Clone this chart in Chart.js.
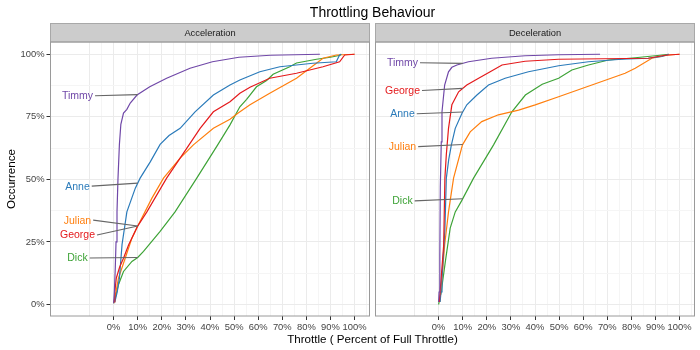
<!DOCTYPE html>
<html lang="en">
<head>
<meta charset="UTF-8" />
<title>Throttling Behaviour</title>
<script src="https://cdn.jsdelivr.net/npm/chart.js"></script>
<style>
  body { margin: 0; background: #fff; font-family: "Liberation Sans", Arial, sans-serif; }
  #wrap { position: relative; width: 700px; height: 350px; overflow: hidden; }
  #title { position: absolute; left: 0; top: 4px; width: 745px; text-align: center; font-size: 14px; line-height: 16px; color: #000; }
  #xtitle { position: absolute; left: 0; top: 332px; width: 745px; text-align: center; font-size: 11.6px; line-height: 14px; color: #000; }
  #accChart { position: absolute; left: 0; top: 0; }
  #decChart { position: absolute; left: 372px; top: 0; }
</style>
</head>
<body>
<div id="wrap">
  <canvas id="accChart" width="372" height="350"></canvas>
  <canvas id="decChart" width="328" height="350"></canvas>
  <div id="title">Throttling Behaviour</div>
  <div id="xtitle">Throttle ( Percent of Full Throttle)</div>
</div>

<script>
// === data: [throttle %, occurrence %] ===
const drivers = ["Timmy", "George", "Anne", "Julian", "Dick"];

const accTimmy = [[0,0.5],[0.3,5],[0.7,15],[1,25],[1.4,37],[1.8,50],[2.4,64],[3,72],[4.1,76.5],[5.5,78],[6.9,80.5],[9.7,83.7],[15,87],[22,90.4],[31.7,94.4],[41,97],[52,98.8],[65,99.6],[85.6,100]];
const accGeorge = [[0.3,1],[0.5,5],[1.1,10.5],[2.5,15],[4.1,18.5],[6.2,23.8],[9.9,31.2],[13.8,37],[22,50.5],[27.6,58.5],[35.9,70.4],[41.4,77],[48.3,81],[52.4,84.4],[56.6,86.8],[64.8,90.4],[75.9,92.4],[86.9,95],[93.8,97],[95.9,99.7],[100,100]];
const accAnne = [[0.5,1],[1.5,5],[2.4,10.5],[3.5,24],[5.5,37],[9,46.5],[11,50.5],[15.2,57],[19.3,64],[23,67.5],[27.6,70.4],[33.8,77],[41.4,83.7],[48.3,87.7],[52.4,89.7],[60.7,93],[69,95],[82.7,96.4],[92.4,97],[93.8,99.7],[94.5,100]];
const accJulian = [[0,0.5],[1,5],[2,10.5],[4.8,18.5],[7.6,26.5],[9.9,31.2],[15.9,42.5],[20.7,50.5],[27.6,58.5],[33.1,63.8],[41.4,70.4],[48.3,74],[51.7,76.5],[56.6,79.8],[64.8,84.4],[75.9,90.4],[81.4,94.4],[86.9,98.4],[92.4,99.7],[100,100]];
const accDick = [[0,0.5],[0.5,2],[2,7.9],[4.1,13.2],[7.6,17.2],[10,18.8],[12.4,21.2],[19.3,29.2],[25.5,37],[34.5,50.5],[43,63.5],[48.3,71.8],[52.4,79],[55.2,82],[59.3,87],[63.5,89.5],[66.2,92],[73.1,95],[75.9,96.5],[84.2,98],[90,98.8],[94,99.6],[94.5,100]];

const decTimmy = [[0,1],[0.2,5],[0.5,20],[0.7,47],[1.1,65],[1.4,77],[2.5,87.7],[4.1,93],[5.5,94.8],[7.6,95.7],[12.4,97],[22,98.4],[35.9,99.4],[49.8,99.8],[67,100]];
const decGeorge = [[0.3,1],[0.6,5],[1,10],[2.1,23.8],[2.6,50.5],[3.2,60],[4.1,70.4],[5.5,79.8],[8.3,85],[11.7,87.7],[16.6,90.4],[21.4,93],[26.3,95.7],[35.9,97.2],[49.8,98],[87,98.4],[94,99.6],[100,100]];
const decAnne = [[0.6,1],[1,5],[1.4,10.5],[2.6,30],[3.2,50.5],[4.2,58],[5.3,63.8],[6.9,70.4],[9.7,76.4],[11.7,79.8],[15.9,83.7],[20.7,87.7],[27.6,90.4],[37.3,93],[49.8,95.4],[62.2,97],[76,98],[87,98.4],[92.7,99.1],[95.5,100]];
const decJulian = [[0.5,1],[1.4,10.5],[2.5,23.8],[4.1,37],[6.2,50.5],[9.9,63.8],[13.1,69],[17.9,73.1],[24.8,75.8],[33.2,77.7],[40.1,79.8],[49.8,83],[63.6,87.7],[77.4,92.4],[81.6,94.4],[88.5,98.4],[95.4,99.7],[100,100]];
const decDick = [[0,0],[0.4,2],[1.1,5.2],[2.8,17.2],[4.8,30.5],[6.9,37],[9.7,41.7],[14.5,50.5],[22.8,63.8],[30.4,77],[36,83.7],[43,88],[49.8,90.4],[55.3,93.7],[62.2,95.7],[70.5,97.7],[81.6,98.6],[89.9,99.4],[95.5,100]];

// label heights (occurrence %) in driver order
const accLabelY = [83.4, 27.8, 47.3, 33.7, 18.6];
const decLabelY = [96.6, 85.5, 76.2, 63.1, 41.4];

// ticks
const xTickValues = [0, 10, 20, 30, 40, 50, 60, 70, 80, 90, 100];
const xTickLabels = ["0%", "10%", "20%", "30%", "40%", "50%", "60%", "70%", "80%", "90%", "100%"];
const xGrid = [-10, -5, 0, 5, 10, 15, 20, 25, 30, 35, 40, 45, 50, 55, 60, 65, 70, 75, 80, 85, 90, 95, 100, 105];
const yTickValues = [0, 25, 50, 75, 100];
const yTickLabels = ["0%", "25%", "50%", "75%", "100%"];
const yGrid = [0, 12.5, 25, 37.5, 50, 62.5, 75, 87.5, 100];

const driverColors = ["#7048A8", "#E41A1C", "#2B7BBA", "#FF7F0E", "#3EA337"];

Chart.defaults.font.family = '"Liberation Sans", Arial, sans-serif';
Chart.defaults.animation = false;

// value of a series at a given throttle (for the label leaders)
function valueAt(pts, xv) {
  for (let i = 1; i < pts.length; i++) {
    const a = pts[i - 1], b = pts[i];
    if (xv >= a[0] && xv <= b[0]) {
      return b[0] === a[0] ? b[1] : a[1] + (b[1] - a[1]) * (xv - a[0]) / (b[0] - a[0]);
    }
  }
  return pts[pts.length - 1][1];
}

// strip, border and driver labels
const panelDecor = {
  id: "panelDecor",
  afterDraw(chart, args, opts) {
    const { ctx, chartArea: a, scales: { x, y } } = chart;
    ctx.save();
    ctx.fillStyle = "#CCCCCC";
    ctx.fillRect(a.left, 23.5, a.right - a.left, a.top - 23.5);
    ctx.strokeStyle = "#A8A8A8";
    ctx.lineWidth = 1;
    ctx.strokeRect(a.left, 23.5, a.right - a.left, a.top - 23.5);
    ctx.fillStyle = "#1A1A1A";
    ctx.font = '9.3px "Liberation Sans", Arial, sans-serif';
    ctx.textAlign = "center";
    ctx.textBaseline = "middle";
    ctx.fillText(opts.strip, (a.left + a.right) / 2, (23.5 + a.top) / 2 + 0.5);

    ctx.strokeStyle = "#9A9A9A";
    ctx.strokeRect(a.left, a.top, a.right - a.left, a.bottom - a.top);

    ctx.font = '10.5px "Liberation Sans", Arial, sans-serif';
    opts.series.forEach((pts, i) => {
      const tx = x.getPixelForValue(-15);
      const ty = y.getPixelForValue(opts.labelY[i]);
      const w = ctx.measureText(drivers[i]).width;
      ctx.strokeStyle = "#666666";
      ctx.lineWidth = 1.1;
      ctx.beginPath();
      ctx.moveTo(tx + w / 2 + 2, ty);
      ctx.lineTo(x.getPixelForValue(10), y.getPixelForValue(valueAt(pts, 10)));
      ctx.stroke();
      ctx.fillStyle = driverColors[i];
      ctx.fillText(drivers[i], tx, ty + 0.5);
    });
    ctx.restore();
  }
};

function makeDatasets(series) {
  return series.map((pts, i) => ({
    label: drivers[i],
    data: pts.map(p => ({ x: p[0], y: p[1] })),
    borderColor: driverColors[i],
    borderWidth: 1.2,
    pointRadius: 0,
    showLine: true,
    fill: false,
    tension: 0
  }));
}

function makeChart(id, series, labelY, strip, isLeft) {
  return new Chart(document.getElementById(id), {
    type: "scatter",
    data: { datasets: makeDatasets(series) },
    options: {
      responsive: false,
      devicePixelRatio: 1,
      layout: { padding: { top: 42, right: isLeft ? 2.5 : 5.5, left: isLeft ? 0 : 3.5, bottom: 0 } },
      plugins: {
        legend: { display: false },
        tooltip: { enabled: false },
        panelDecor: { strip: strip, series: series, labelY: labelY }
      },
      scales: {
        x: {
          type: "linear",
          min: -26.2,
          max: 106.2,
          afterBuildTicks: s => { s.ticks = xGrid.map(v => ({ value: v })); },
          afterFit: s => { s.height = 34; },
          ticks: {
            autoSkip: false, maxRotation: 0, padding: 1.5, color: "#444444", font: { size: 9.4 },
            callback: v => { const k = xTickValues.indexOf(v); return k < 0 ? "" : xTickLabels[k]; }
          },
          grid: {
            color: c => (c.tick && c.tick.value % 10 === 0) ? "#EBEBEB" : "#F5F5F5",
            tickLength: 4,
            tickColor: c => (c.tick && xTickValues.includes(c.tick.value)) ? "#333333" : "rgba(0,0,0,0)"
          },
          border: { display: false }
        },
        y: {
          type: "linear",
          min: -4.6,
          max: 104.9,
          afterBuildTicks: s => { s.ticks = yGrid.map(v => ({ value: v })); },
          afterFit: s => { s.width = isLeft ? 50.5 : 0; },
          title: {
            display: isLeft, text: "Occurrence", color: "#000", font: { size: 11.6 }, padding: { top: 5, bottom: 0 }
          },
          ticks: {
            display: isLeft, autoSkip: false, padding: 2, color: "#444444", font: { size: 9.4 },
            callback: v => { const k = yTickValues.indexOf(v); return k < 0 ? "" : yTickLabels[k]; }
          },
          grid: {
            color: c => (c.tick && yTickValues.includes(c.tick.value)) ? "#EBEBEB" : "#F5F5F5",
            drawTicks: isLeft,
            tickLength: 4,
            tickColor: c => (c.tick && yTickValues.includes(c.tick.value)) ? "#333333" : "rgba(0,0,0,0)"
          },
          border: { display: false }
        }
      }
    },
    plugins: [panelDecor]
  });
}

makeChart("accChart", [accTimmy, accGeorge, accAnne, accJulian, accDick], accLabelY, "Acceleration", true);
makeChart("decChart", [decTimmy, decGeorge, decAnne, decJulian, decDick], decLabelY, "Deceleration", false);
</script>
</body>
</html>
